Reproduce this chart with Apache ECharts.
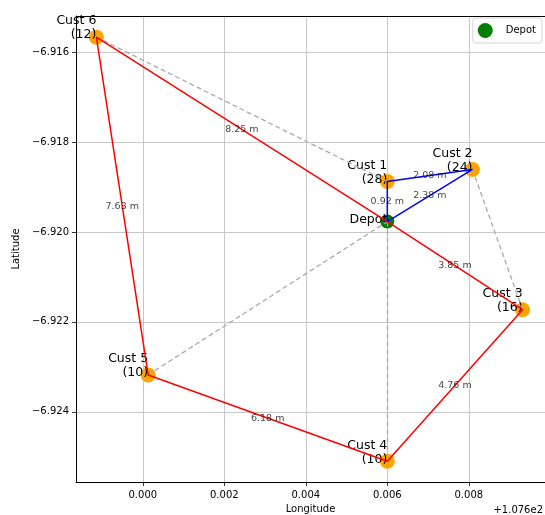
<!DOCTYPE html>
<html>
<head>
<meta charset="utf-8">
<script src="https://cdn.jsdelivr.net/npm/echarts@6/dist/echarts.min.js"></script>
<style>
  html, body { margin: 0; padding: 0; background: #fff; overflow: hidden; }
  #routeChart { width: 545px; height: 515px; }
</style>
</head>
<body>
<div id="routeChart"></div>
<script>
// stops: index 0 is the depot
const stopNames = ['Depot', 'Cust 1', 'Cust 2', 'Cust 3', 'Cust 4', 'Cust 5', 'Cust 6']
const demands = [null, 28, 24, 16, 10, 10, 12]
// longitude shown as offset from 107.6 (axis offset +1.076e2)
const lonOffset = [0.0060, 0.0060, 0.00809, 0.00932, 0.0060, 0.00013, -0.00114]
const lat = [-6.91977, -6.91888, -6.91861, -6.92173, -6.92510, -6.92318, -6.91567]

const redRoute = [0, 3, 4, 5, 6, 0]
const redDist = [3.85, 4.76, 6.18, 7.63, 8.25]
const blueRoute = [0, 1, 2, 0]
const blueDist = [0.92, 2.08, 2.38]
const grayEdges = [[6, 1], [2, 3], [5, 0], [0, 4]]

const xTicks = [0.000, 0.002, 0.004, 0.006, 0.008]
const yTicks = [-6.916, -6.918, -6.920, -6.922, -6.924]

const xRange = [-0.00164, 0.00987]
const yRange = [-6.92556, -6.9152]

const FONT = 'DejaVu Sans'

function pt(i) {
  return [lonOffset[i], lat[i]]
}

function routeLabels(route, dist) {
  const out = []
  for (let k = 0; k < route.length - 1; k++) {
    const a = pt(route[k])
    const b = pt(route[k + 1])
    out.push({ value: [(a[0] + b[0]) / 2, (a[1] + b[1]) / 2], d: dist[k] })
  }
  return out
}

// grid lines at tick values, spanning the whole axis range
const gridLines = xTicks.map(v => ({ coords: [[v, yRange[0]], [v, yRange[1]]] }))
  .concat(yTicks.map(v => ({ coords: [[xRange[0], v], [xRange[1], v]] })))

const myChart = echarts.init(document.getElementById('routeChart'))

const options = {
  backgroundColor: '#fff',
  animation: false,
  textStyle: { fontFamily: FONT },
  grid: {
    left: 76,
    top: 16,
    right: 0,
    bottom: 33,
    outerBoundsMode: 'none',
    show: false
  },
  legend: {
    data: ['Depot'],
    right: 3,
    top: 18,
    icon: 'circle',
    itemWidth: 15,
    itemHeight: 15,
    padding: [5, 6, 5, 5],
    borderColor: '#d4d4d4',
    borderWidth: 1,
    borderRadius: 3,
    backgroundColor: '#fff',
    textStyle: { fontSize: 10, color: '#000', fontFamily: FONT, padding: [0, 0, 0, 8] }
  },
  xAxis: [
    {
      type: 'value',
      min: xRange[0],
      max: xRange[1],
      name: 'Longitude',
      nameLocation: 'middle',
      nameGap: 22,
      nameTextStyle: { fontSize: 10, color: '#000', fontFamily: FONT },
      axisLine: { show: true, onZero: false, lineStyle: { color: '#000', width: 1 } },
      axisTick: { show: true, length: 4, customValues: xTicks, lineStyle: { color: '#000', width: 0.8 } },
      axisLabel: {
        customValues: xTicks,
        fontSize: 10,
        color: '#000',
        fontFamily: FONT,
        margin: 8,
        formatter: v => v.toFixed(3)
      },
      splitLine: { show: false }
    },
    {
      // top spine only
      type: 'value',
      position: 'top',
      min: xRange[0],
      max: xRange[1],
      axisLine: { show: true, onZero: false, lineStyle: { color: '#000', width: 1 } },
      axisTick: { show: false },
      axisLabel: { show: false },
      splitLine: { show: false }
    }
  ],
  yAxis: {
    type: 'value',
    min: yRange[0],
    max: yRange[1],
    name: 'Latitude',
    nameLocation: 'middle',
    nameGap: 52,
    nameTextStyle: { fontSize: 10, color: '#000', fontFamily: FONT },
    axisLine: { show: true, onZero: false, lineStyle: { color: '#000', width: 1 } },
    axisTick: { show: true, length: 4, customValues: yTicks, lineStyle: { color: '#000', width: 0.8 } },
    axisLabel: {
      customValues: yTicks,
      fontSize: 10,
      color: '#000',
      fontFamily: FONT,
      margin: 7,
      formatter: v => v.toFixed(3).replace('-', '\u2212')
    },
    splitLine: { show: false }
  },
  graphic: [
    {
      type: 'text',
      right: 2,
      bottom: 0,
      style: { text: '+1.076e2', fontSize: 10, fill: '#000', fontFamily: FONT }
    }
  ],
  series: [
    {
      type: 'lines',
      name: 'grid',
      coordinateSystem: 'cartesian2d',
      z: 0,
      silent: true,
      lineStyle: { color: '#c8c8c8', width: 1, opacity: 1 },
      data: gridLines
    },
    {
      type: 'scatter',
      name: 'customers',
      z: 1,
      symbolSize: 15,
      itemStyle: { color: 'orange', opacity: 1 },
      data: stopNames.slice(1).map((n, k) => ({ value: pt(k + 1), name: n, dem: demands[k + 1] })),
      label: {
        show: true,
        position: 'inside',
        align: 'right',
        verticalAlign: 'bottom',
        offset: [0, 5],
        fontSize: 12.5,
        lineHeight: 14,
        color: '#000',
        fontFamily: FONT,
        formatter: p => p.name + '\n(' + p.data.dem + ')'
      }
    },
    {
      type: 'scatter',
      name: 'Depot',
      z: 1,
      symbolSize: 14,
      itemStyle: { color: 'green', opacity: 1 },
      data: [{ value: pt(0), name: stopNames[0] }],
      label: {
        show: true,
        position: 'inside',
        align: 'right',
        verticalAlign: 'bottom',
        offset: [0, 5],
        fontSize: 12.5,
        color: '#000',
        fontFamily: FONT,
        formatter: p => p.name
      }
    },
    {
      type: 'lines',
      name: 'other',
      coordinateSystem: 'cartesian2d',
      z: 2,
      silent: true,
      lineStyle: { color: '#aaaaaa', width: 1.3, type: [5, 3], opacity: 1 },
      data: grayEdges.map(e => ({ coords: [pt(e[0]), pt(e[1])] }))
    },
    {
      type: 'line',
      name: 'route1',
      z: 3,
      symbol: 'none',
      silent: true,
      lineStyle: { color: 'red', width: 1.5 },
      data: redRoute.map(pt)
    },
    {
      type: 'line',
      name: 'route2',
      z: 3,
      symbol: 'none',
      silent: true,
      lineStyle: { color: 'blue', width: 1.5 },
      data: blueRoute.map(pt)
    },
    {
      type: 'scatter',
      name: 'distances',
      z: 4,
      symbolSize: 0,
      silent: true,
      data: routeLabels(redRoute, redDist).concat(routeLabels(blueRoute, blueDist)),
      label: {
        show: true,
        position: 'inside',
        fontSize: 9.5,
        color: '#111',
        fontFamily: FONT,
        formatter: p => p.data.d.toFixed(2) + ' m'
      }
    }
  ]
}

myChart.setOption(options)
</script>
</body>
</html>
